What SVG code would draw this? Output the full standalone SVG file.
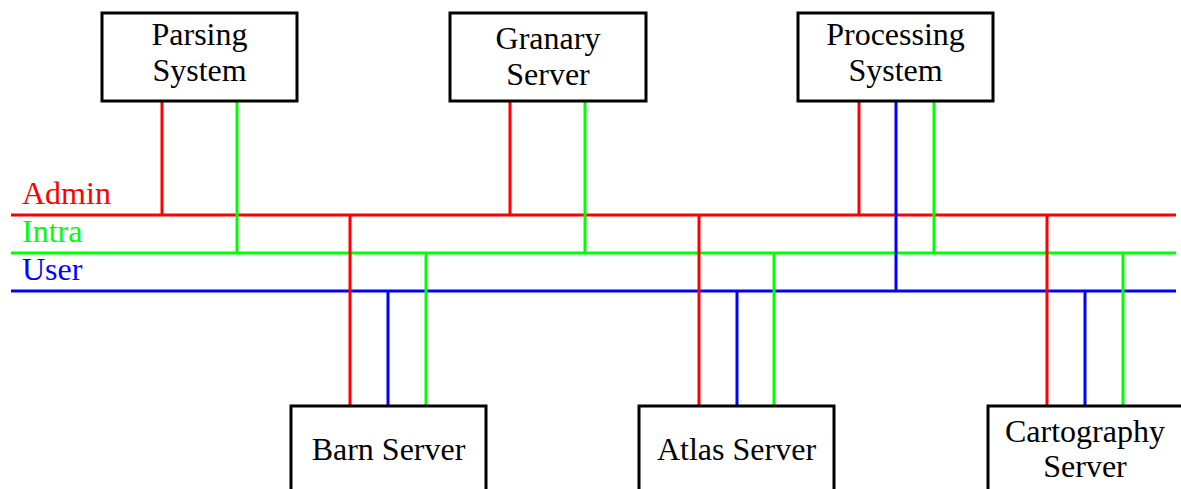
<svg xmlns="http://www.w3.org/2000/svg" width="1181" height="489" viewBox="0 0 1181 489">
<style>
.box{fill:#fff;stroke:#000;stroke-width:3}
.t{font-family:"Liberation Serif","Times New Roman",serif;font-size:32px;fill:#000;text-anchor:middle}
.lbl{font-family:"Liberation Serif","Times New Roman",serif;font-size:32px}
.r{stroke:#ff0000;stroke-width:3;fill:none}
.g{stroke:#00ff00;stroke-width:3;fill:none}
.b{stroke:#0000ff;stroke-width:3;fill:none}
</style>
<rect width="1181" height="489" fill="#fff"/>
<g id="connectors">
<line class="r" x1="11" y1="215" x2="1176" y2="215"/>
<line class="g" x1="11" y1="253" x2="1176" y2="253"/>
<line class="b" x1="11" y1="291" x2="1176" y2="291"/>
<line class="r" x1="162" y1="101" x2="162" y2="215"/>
<line class="g" x1="237" y1="101" x2="237" y2="253"/>
<line class="r" x1="510" y1="101" x2="510" y2="215"/>
<line class="g" x1="585" y1="101" x2="585" y2="253"/>
<line class="r" x1="859" y1="101" x2="859" y2="215"/>
<line class="b" x1="896" y1="101" x2="896" y2="291"/>
<line class="g" x1="934" y1="101" x2="934" y2="253"/>
<line class="r" x1="350" y1="215" x2="350" y2="406"/>
<line class="b" x1="388" y1="291" x2="388" y2="406"/>
<line class="g" x1="426" y1="253" x2="426" y2="406"/>
<line class="r" x1="699" y1="215" x2="699" y2="406"/>
<line class="b" x1="737" y1="291" x2="737" y2="406"/>
<line class="g" x1="774" y1="253" x2="774" y2="406"/>
<line class="r" x1="1047" y1="215" x2="1047" y2="406"/>
<line class="b" x1="1085" y1="291" x2="1085" y2="406"/>
<line class="g" x1="1123" y1="253" x2="1123" y2="406"/>
</g>
<g id="labels">
<text class="lbl" x="22" y="204" fill="#ff0000">Admin</text>
<text class="lbl" x="22" y="242" fill="#00ff00">Intra</text>
<text class="lbl" x="22" y="280" fill="#0000ff">User</text>
</g>
<g id="parsing">
<rect class="box" x="102" y="13" width="195" height="88"/>
<text class="t" x="199.5" y="45">Parsing</text>
<text class="t" x="199.5" y="81">System</text>
</g>
<g id="granary">
<rect class="box" x="450" y="13" width="196" height="88"/>
<text class="t" x="548" y="49">Granary</text>
<text class="t" x="548" y="85">Server</text>
</g>
<g id="processing">
<rect class="box" x="798" y="13" width="195" height="88"/>
<text class="t" x="895.5" y="45">Processing</text>
<text class="t" x="895.5" y="81">System</text>
</g>
<g id="barn">
<rect class="box" x="291" y="406" width="195" height="90"/>
<text class="t" x="388.5" y="460">Barn Server</text>
</g>
<g id="atlas">
<rect class="box" x="639" y="406" width="195" height="90"/>
<text class="t" x="736.5" y="460">Atlas Server</text>
</g>
<g id="cartography">
<rect class="box" x="988" y="406" width="195" height="90"/>
<text class="t" x="1085" y="442">Cartography</text>
<text class="t" x="1085" y="477">Server</text>
</g>
</svg>
